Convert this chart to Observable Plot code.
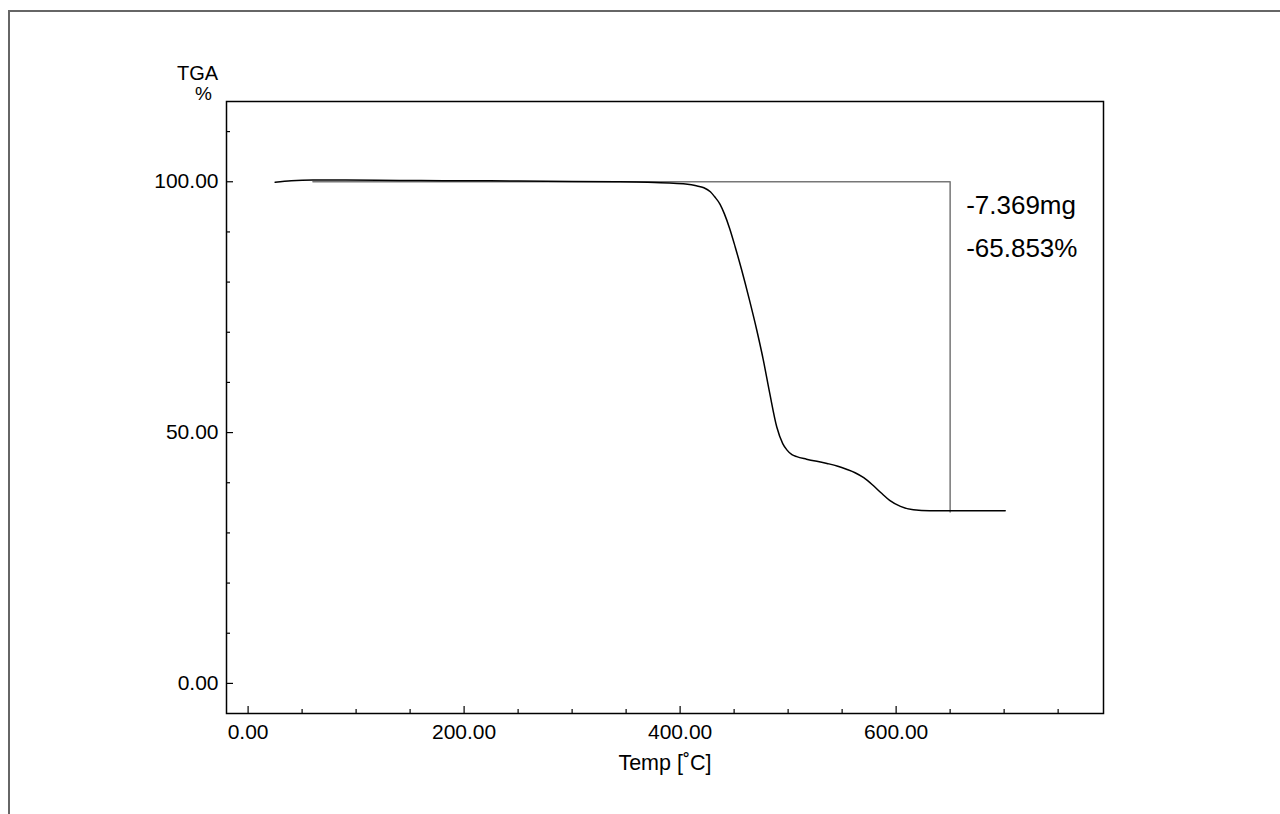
<!DOCTYPE html>
<html><head><meta charset="utf-8">
<script src="https://cdn.jsdelivr.net/npm/d3@7"></script>
<script src="https://cdn.jsdelivr.net/npm/@observablehq/plot@0.6"></script>
<style>
body{margin:0;background:#fff;font-family:"Liberation Sans",Arial,sans-serif;}
#page{position:relative;width:1280px;height:814px;overflow:hidden;}
#border{position:absolute;left:8px;top:10px;width:1300px;height:900px;border-top:2px solid #666;border-left:2px solid #666;}
#chart{position:absolute;left:0;top:0;}
</style></head><body>
<div id="page"><div id="border"></div><div id="chart"></div></div>
<script>
// TGA curve
const temps = [25, 40, 60, 80, 120, 160, 200, 250, 300, 340, 370, 390, 405, 415, 422, 428, 432, 437, 441, 446, 451, 457, 464, 471, 477, 483, 489.5, 495, 499, 503.5, 508, 517, 536, 546, 554, 562, 570, 578, 586, 594, 604, 616, 631, 660, 701];
const tga   = [99.9, 100.2, 100.35, 100.35, 100.3, 100.25, 100.2, 100.15, 100.05, 100.0, 99.9, 99.75, 99.55, 99.2, 98.8, 98.0, 97.0, 95.5, 93.6, 90.6, 87.0, 82.4, 76.6, 70.4, 64.5, 57.8, 51.1, 47.8, 46.5, 45.6, 45.2, 44.7, 43.85, 43.3, 42.7, 42.0, 41.0, 39.6, 38.0, 36.5, 35.3, 34.6, 34.4, 34.4, 34.4];

const xMajor = [0, 200, 400, 600];
const xMinor = [50, 100, 150, 250, 300, 350, 450, 500, 550, 650, 700, 750];
const yMajor = [0, 50, 100];
const yMinor = [10, 20, 30, 40, 60, 70, 80, 90, 110];

const stepStartT = 60, stepT = 650, stepTop = 100.0, stepBottom = 34.147;
const stepLabels = ["-7.369mg", "-65.853%"];
const xLabel = "Temp [˚C]";
const yLabelTop = "TGA", yLabelUnit = "%";

const curve = temps.map((t, i) => ({t, v: tga[i]}));
const step = [
  {t: stepStartT, v: stepTop},
  {t: stepT, v: stepTop},
  {t: stepT, v: stepBottom}
];

const W = 1280, H = 814, mL = 226, mR = 177, mT = 101, mB = 101;
const fw = W - mL - mR, fh = H - mT - mB;
const fmt = d => d.toFixed(2);

const chart = Plot.plot({
  width: W, height: H,
  marginLeft: mL, marginRight: mR, marginTop: mT, marginBottom: mB,
  style: {fontFamily: '"Liberation Sans", Arial, sans-serif', background: "transparent", color: "#000"},
  x: {domain: [-20, 792]},
  y: {domain: [-6, 116]},
  marks: [
    Plot.line(step, {x: "t", y: "v", stroke: "#777", strokeWidth: 1.5}),
    Plot.line(curve, {x: "t", y: "v", stroke: "#000", strokeWidth: 1.5, curve: "monotone-x"}),
    Plot.frame({stroke: "#000", strokeWidth: 1.5}),
    Plot.tickX(xMajor, {x: d => d, insetTop: fh - 7, stroke: "#000", strokeWidth: 1.2}),
    Plot.tickX(xMinor, {x: d => d, insetTop: fh - 4, stroke: "#000", strokeWidth: 1.2}),
    Plot.tickY(yMajor, {y: d => d, insetRight: fw - 7, stroke: "#000", strokeWidth: 1.2}),
    Plot.tickY(yMinor, {y: d => d, insetRight: fw - 4, stroke: "#000", strokeWidth: 1.2}),
    Plot.axisX({ticks: xMajor, tickSize: 0, tickPadding: 11, tickFormat: fmt, fontSize: 21, label: null}),
    Plot.axisY({ticks: yMajor, tickSize: 0, tickPadding: 8, tickFormat: fmt, fontSize: 21, label: null}),
    Plot.text([stepLabels[0]], {x: () => stepT, y: () => stepTop, text: d => d, dx: 16, dy: 32, textAnchor: "start", lineAnchor: "bottom", fontSize: 26}),
    Plot.text([stepLabels[1]], {x: () => stepT, y: () => stepTop, text: d => d, dx: 16, dy: 75, textAnchor: "start", lineAnchor: "bottom", fontSize: 26}),
    Plot.text([xLabel], {text: d => d, frameAnchor: "bottom", dy: 56, lineAnchor: "bottom", fontSize: 21.5}),
    Plot.text([yLabelTop], {text: d => d, frameAnchor: "top-left", dx: -29, dy: -22, lineAnchor: "bottom", textAnchor: "middle", fontSize: 20}),
    Plot.text([yLabelUnit], {text: d => d, frameAnchor: "top-left", dx: -23, dy: -2, lineAnchor: "bottom", textAnchor: "middle", fontSize: 19})
  ]
});
document.getElementById("chart").appendChild(chart);
</script>
</body></html>
